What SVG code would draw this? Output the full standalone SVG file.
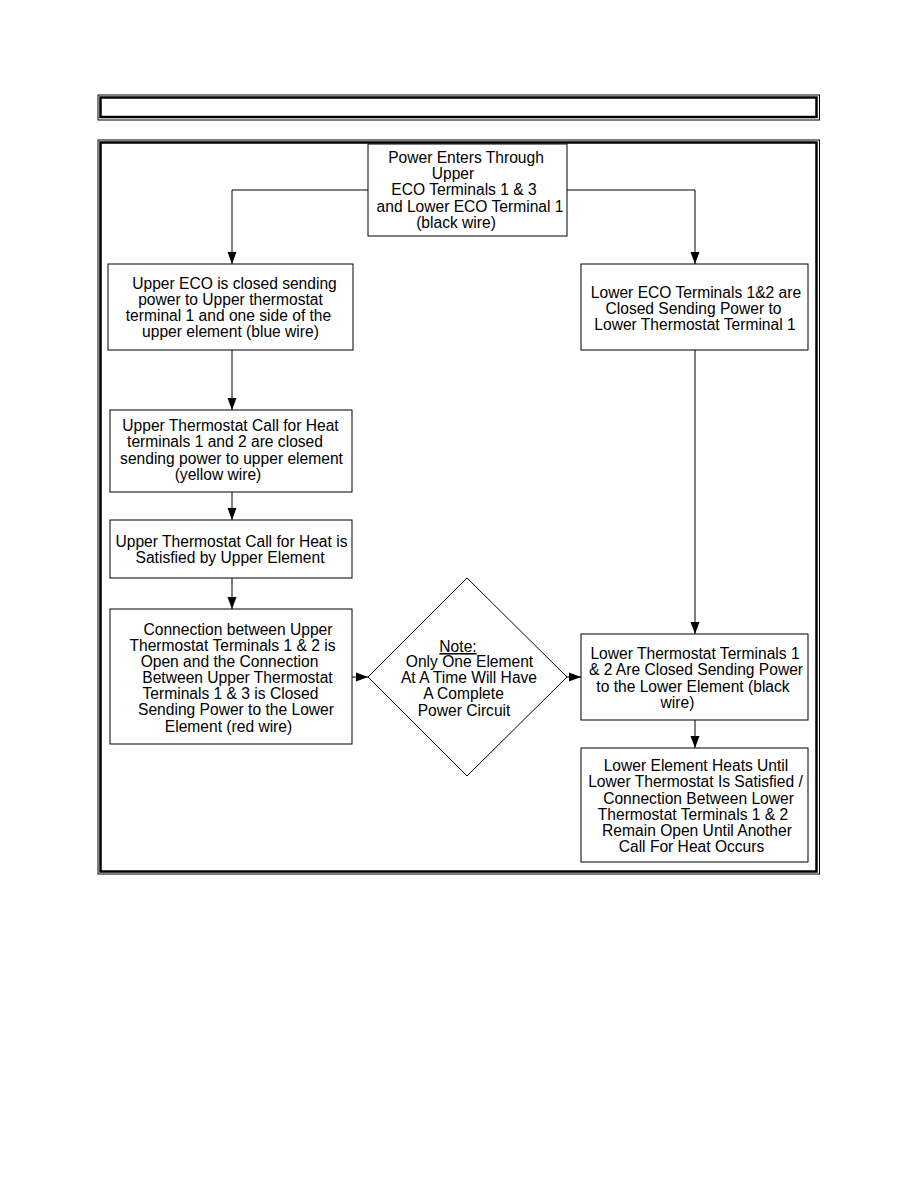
<svg xmlns="http://www.w3.org/2000/svg" width="918" height="1188" viewBox="0 0 918 1188">
<style>
.frame-o{fill:none;stroke:#000;stroke-width:1}
.frame-i{fill:none;stroke:#000;stroke-width:2.5}
.box{fill:#fff;stroke:#000;stroke-width:1}
.conn{fill:none;stroke:#000;stroke-width:1}
text{font-family:"Liberation Sans",Arial,sans-serif;font-size:15.6px;fill:#000;text-anchor:middle}
</style>
<defs>
<marker id="ah" markerUnits="userSpaceOnUse" markerWidth="12" markerHeight="10" refX="12" refY="5" orient="auto">
<path d="M0,0.5 L12,5 L0,9.5 z" fill="#000"/>
</marker>
</defs>
<rect width="918" height="1188" fill="#fff"/>
<g id="title-frame">
<rect class="frame-o" x="98" y="95" width="721.5" height="25"/>
<rect class="frame-i" x="100.5" y="97.5" width="716" height="19.5"/>
</g>
<g id="main-frame">
<rect class="frame-o" x="98" y="140" width="721.5" height="734"/>
<rect class="frame-i" x="100.5" y="142.5" width="716" height="729"/>
</g>
<g id="connectors">
<polyline class="conn" points="368,190 232,190 232,264" marker-end="url(#ah)"/>
<polyline class="conn" points="567,190 695,190 695,264" marker-end="url(#ah)"/>
<line class="conn" x1="232" y1="350" x2="232" y2="410" marker-end="url(#ah)"/>
<line class="conn" x1="232" y1="492" x2="232" y2="520" marker-end="url(#ah)"/>
<line class="conn" x1="232" y1="578" x2="232" y2="609" marker-end="url(#ah)"/>
<line class="conn" x1="352" y1="677" x2="368" y2="677" marker-end="url(#ah)"/>
<line class="conn" x1="567" y1="677" x2="581" y2="677" marker-end="url(#ah)"/>
<line class="conn" x1="695" y1="350" x2="695" y2="634" marker-end="url(#ah)"/>
<line class="conn" x1="695" y1="720" x2="695" y2="748" marker-end="url(#ah)"/>
</g>
<g id="n-power">
<rect class="box" x="368" y="144" width="199" height="92"/>
<text x="466" y="163">Power Enters Through</text>
<text x="453" y="179">Upper</text>
<text x="464" y="195">ECO Terminals 1 &amp; 3</text>
<text x="470" y="212">and Lower ECO Terminal 1</text>
<text x="456" y="228">(black wire)</text>
</g>
<g id="n-upper-eco">
<rect class="box" x="108" y="264" width="245" height="86"/>
<text x="234.5" y="289">Upper ECO is closed sending</text>
<text x="230.5" y="305">power to Upper thermostat</text>
<text x="228.5" y="321">terminal 1 and one side of the</text>
<text x="230.5" y="337">upper element (blue wire)</text>
</g>
<g id="n-lower-eco">
<rect class="box" x="581" y="264" width="227" height="86"/>
<text x="696" y="298">Lower ECO Terminals 1&amp;2 are</text>
<text x="693.5" y="314">Closed Sending Power to</text>
<text x="695" y="330">Lower Thermostat Terminal 1</text>
</g>
<g id="n-upper-call">
<rect class="box" x="110" y="410" width="242" height="82"/>
<text x="230.5" y="431">Upper Thermostat Call for Heat</text>
<text x="225" y="447">terminals 1 and 2 are closed</text>
<text x="231.5" y="464">sending power to upper element</text>
<text x="218" y="480">(yellow wire)</text>
</g>
<g id="n-upper-satisfied">
<rect class="box" x="110" y="520" width="242" height="58"/>
<text x="231.5" y="547">Upper Thermostat Call for Heat is</text>
<text x="230" y="563">Satisfied by Upper Element</text>
</g>
<g id="n-connection">
<rect class="box" x="110" y="609" width="242" height="135"/>
<text x="238" y="635">Connection between Upper</text>
<text x="232.5" y="651">Thermostat Terminals 1 &amp; 2 is</text>
<text x="229.5" y="667">Open and the Connection</text>
<text x="237.5" y="683">Between Upper Thermostat</text>
<text x="230.5" y="699">Terminals 1 &amp; 3 is Closed</text>
<text x="236" y="715">Sending Power to the Lower</text>
<text x="228.5" y="732">Element (red wire)</text>
</g>
<g id="n-note">
<polygon class="box" points="368,677 467,578 567,677 467,776"/>
<text x="458" y="652" text-decoration="underline">Note:</text>
<text x="469.5" y="667">Only One Element</text>
<text x="469" y="683">At A Time Will Have</text>
<text x="463.5" y="699">A Complete</text>
<text x="464" y="716">Power Circuit</text>
</g>
<g id="n-lower-thermostat">
<rect class="box" x="581" y="634" width="227" height="86"/>
<text x="695" y="659">Lower Thermostat Terminals 1</text>
<text x="696" y="675">&amp; 2 Are Closed Sending Power</text>
<text x="693" y="692">to the Lower Element (black</text>
<text x="677.5" y="708">wire)</text>
</g>
<g id="n-lower-heats">
<rect class="box" x="581" y="748" width="227" height="114"/>
<text x="696" y="771">Lower Element Heats Until</text>
<text x="695.5" y="787">Lower Thermostat Is Satisfied /</text>
<text x="698.5" y="804">Connection Between Lower</text>
<text x="693" y="820">Thermostat Terminals 1 &amp; 2</text>
<text x="697" y="836">Remain Open Until Another</text>
<text x="691.5" y="852">Call For Heat Occurs</text>
</g>
</svg>
